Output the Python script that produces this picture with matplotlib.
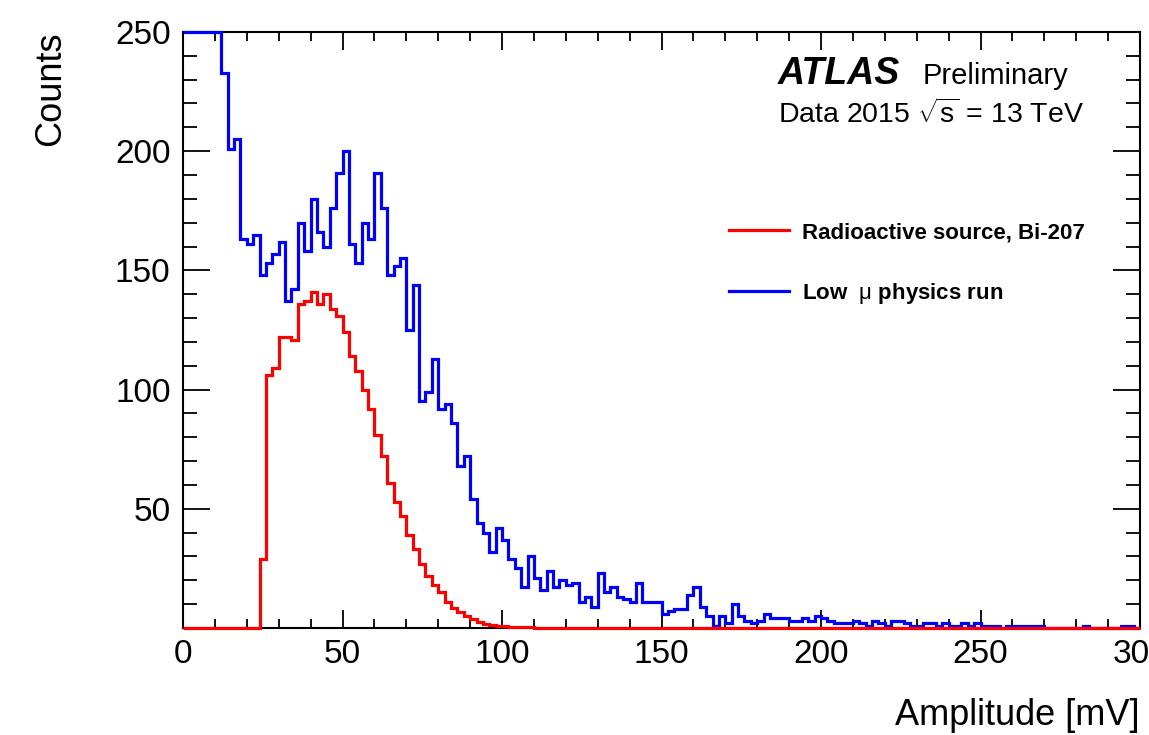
import numpy as np
import matplotlib
matplotlib.use("Agg")
import matplotlib.pyplot as plt
from matplotlib.lines import Line2D
from matplotlib.ticker import MultipleLocator

plt.rcParams['font.family'] = ['Liberation Sans', 'DejaVu Sans']
plt.rcParams['mathtext.fontset'] = 'custom'
plt.rcParams['mathtext.rm'] = 'Liberation Sans'
plt.rcParams['mathtext.it'] = 'Liberation Sans:italic'
plt.rcParams['mathtext.bf'] = 'Liberation Sans:bold'

# 2 mV bins from 0 to 300 mV
bin_edges = np.arange(0, 302, 2)

# Bi-207 source spectrum, one value per bin
source_counts = [
    0, 0, 0, 0, 0, 0, 0, 0, 0, 0, 0, 0,
    29, 106, 109, 122, 122, 121, 136, 137, 141, 136,
    140, 134, 131, 124, 114, 108, 100, 92, 81, 72,
    61, 53, 47, 39, 33, 27, 22, 18, 15,
    11, 8.5, 6.5, 5, 3.6, 2.6, 1.8, 1.3, 1.0, 0.8,
    0.6, 0.5, 0.4, 0.3, 0.2, 0.2, 0.1, 0.1, 0.1,
] + [0] * 90

# low-mu physics run; first bins run off the top of the frame
physics_counts = [
    250, 250, 250, 250, 250, 250, 233, 201, 205, 163,
    161, 165, 148, 153, 157, 162, 137, 142, 170, 158,
    180, 166, 160, 176, 191, 200, 161, 153, 170, 163,
    191, 176, 148, 152, 155, 125, 144, 95, 99, 113,
    92, 94, 86, 68, 72, 54, 44, 40, 32, 42,
    37, 29, 25, 17, 30, 21, 16, 24, 17, 20,
    18, 19, 11, 13, 9, 23, 15, 17, 13, 12,
    11, 19, 11, 11, 11, 6, 7, 8, 8, 14,
    17, 9, 5, 1, 5, 2, 10, 5, 3, 2,
    3, 6, 4, 4, 4, 3, 3, 4, 3, 5,
    4, 3, 2, 2, 2, 3, 2, 1, 3, 2,
    1, 3, 3, 2, 1, 1, 2, 2, 1, 2,
    1, 1, 2, 1, 2, 1, 1, 1, 0, 1,
    1, 1, 1, 1, 1, 0, 0, 0, 0, 0,
    0, 1, 0, 0, 0, 0, 0, 1, 1, 0,
]

series_labels = ['Radioactive source, Bi-207', r'Low  $\mathrm{\mu}$ physics run']
series_colors = ['#ff0000', '#0000ff']


def draw_plot():
    fig = plt.figure(figsize=(11.49, 7.35), dpi=100)
    ax = fig.add_axes([0.1593, 0.1456, 0.8329, 0.8109])

    # histograms drawn over the frame like ROOT does
    ax.stairs(physics_counts, bin_edges, color=series_colors[1], lw=2.3,
              baseline=None, zorder=3, clip_on=False)
    ax.stairs(source_counts, bin_edges, color=series_colors[0], lw=2.3,
              baseline=None, zorder=4, clip_on=False)

    ax.set_xlim(0, 300)
    ax.set_ylim(0, 250)
    ax.xaxis.set_major_locator(MultipleLocator(50))
    ax.xaxis.set_minor_locator(MultipleLocator(10))
    ax.set_yticks([50, 100, 150, 200, 250])
    ax.yaxis.set_minor_locator(MultipleLocator(10))

    ax.tick_params(which='both', direction='in', top=True, right=True,
                   labelsize=24, width=1.3, colors='black')
    ax.tick_params(axis='x', which='major', length=13, pad=8)
    ax.tick_params(axis='x', which='minor', length=6.5)
    ax.tick_params(axis='y', which='major', length=19.5, pad=9)
    ax.tick_params(axis='y', which='minor', length=10)
    for s in ax.spines.values():
        s.set_linewidth(1.5)

    ax.set_xlabel('Amplitude [mV]', fontsize=26, loc='right')
    ax.xaxis.set_label_coords(1.0, -0.117)
    ax.set_ylabel('Counts', fontsize=26, loc='top')
    ax.yaxis.set_label_coords(-0.12, 1.0)

    # ATLAS label
    ax.text(0.6218, 0.9123, 'ATLAS', transform=ax.transAxes, fontsize=27,
            fontweight='bold', fontstyle='italic', va='baseline')
    ax.text(0.7732, 0.9123, 'Preliminary', transform=ax.transAxes,
            fontsize=21, va='baseline')
    ax.text(0.6218, 0.8473, r'Data 2015 $\sqrt{\mathrm{s}}$ = 13 TeV',
            transform=ax.transAxes, fontsize=20.5, va='baseline')

    handles = [Line2D([], [], color=c, lw=2.3) for c in series_colors]
    ax.legend(handles, series_labels, loc='center left',
              bbox_to_anchor=(0.5705, 0.6108), frameon=False,
              prop={'weight': 'bold', 'size': 16}, handlelength=2.7,
              handletextpad=0.6, labelspacing=1.7, borderpad=0,
              borderaxespad=0)

    fig.savefig('out.png', dpi=100, facecolor='white')
    return ax


draw_plot()
